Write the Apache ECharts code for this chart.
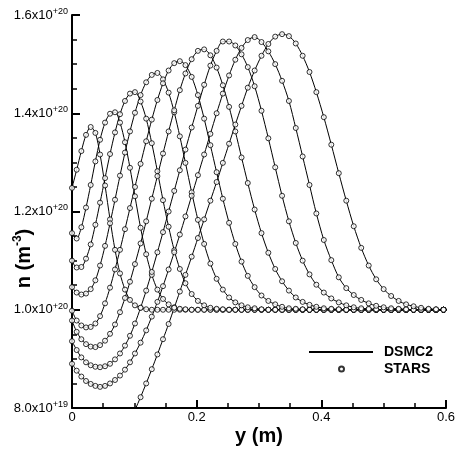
<!DOCTYPE html>
<html><head><meta charset="utf-8">
<script src="https://cdn.jsdelivr.net/npm/echarts@6/dist/echarts.min.js"></script>
<style>html,body{margin:0;padding:0;background:#fff}#c{width:456px;height:450px}</style>
</head><body><div id="c"></div>
<script>
// positions y (m) shared by all profiles
const positions = [0,0.0075,0.015,0.0225,0.03,0.0375,0.045,0.053,0.061,0.069,
  0.077,0.085,0.093,0.101,0.11,0.119,0.128,0.137,0.146,0.155,
  0.164,0.173,0.182,0.192,0.202,0.212,0.222,0.232,0.242,0.252,
  0.262,0.272,0.282,0.293,0.304,0.315,0.326,0.337,0.348,0.359,
  0.37,0.381,0.392,0.404,0.416,0.428,0.44,0.452,0.464,0.476,
  0.488,0.5,0.512,0.524,0.536,0.548,0.56,0.572,0.584,0.596];

// number density n (units of 1e20 m^-3), one profile per time
const run1 = [1.248,1.285,1.323,1.356,1.372,1.360,1.316,1.253,1.184,1.122,
  1.074,1.041,1.020,1.009,1.004,1.001,1,1,1,1,
  1,1,1,1,1,1,1,1,1,1, 1,1,1,1,1,1,1,1,1,1,
  1,1,1,1,1,1,1,1,1,1, 1,1,1,1,1,1,1,1,1,1];
const run2 = [1.156,1.145,1.168,1.208,1.254,1.302,1.346,1.381,1.399,1.402,
  1.381,1.341,1.289,1.231,1.167,1.113,1.071,1.041,1.022,1.011,
  1.005,1.002,1.001,1,1,1,1,1,1,1, 1,1,1,1,1,1,1,1,1,1,
  1,1,1,1,1,1,1,1,1,1, 1,1,1,1,1,1,1,1,1,1];
const run3 = [1.100,1.086,1.087,1.104,1.133,1.173,1.218,1.268,1.317,1.361,
  1.398,1.425,1.440,1.443,1.424,1.389,1.339,1.282,1.223,1.169,
  1.121,1.083,1.054,1.032,1.018,1.009,1.004,1.002,1.001,1,
  1,1,1,1,1,1,1,1,1,1, 1,1,1,1,1,1,1,1,1,1, 1,1,1,1,1,1,1,1,1,1];
const run4 = [1.046,1.035,1.031,1.033,1.042,1.060,1.090,1.130,1.176,1.224,
  1.273,1.320,1.363,1.401,1.437,1.463,1.478,1.482,1.469,1.442,
  1.402,1.353,1.299,1.239,1.183,1.134,1.094,1.063,1.041,1.025,
  1.015,1.009,1.005,1.003,1.001,1,1,1,1,1,
  1,1,1,1,1,1,1,1,1,1, 1,1,1,1,1,1,1,1,1,1];
const run5 = [0.998,0.978,0.968,0.964,0.965,0.972,0.987,1.013,1.045,1.082,
  1.122,1.164,1.207,1.250,1.297,1.343,1.387,1.427,1.461,1.487,
  1.502,1.506,1.498,1.474,1.437,1.389,1.335,1.280,1.226,1.177,
  1.134,1.098,1.069,1.046,1.029,1.018,1.011,1.006,1.003,1.002,
  1.001,1,1,1,1,1,1,1,1,1, 1,1,1,1,1,1,1,1,1,1];
const run6 = [0.978,0.955,0.940,0.930,0.925,0.924,0.928,0.937,0.951,0.970,
  0.995,1.024,1.057,1.093,1.135,1.180,1.226,1.272,1.318,1.363,
  1.406,1.447,1.481,1.510,1.527,1.530,1.518,1.493,1.457,1.413,
  1.363,1.310,1.258,1.204,1.156,1.116,1.083,1.058,1.039,1.025,
  1.016,1.010,1.006,1.003,1.002,1.001,1,1,1,1, 1,1,1,1,1,1,1,1,1,1];
const run7 = [0.936,0.918,0.903,0.893,0.887,0.884,0.883,0.885,0.890,0.899,
  0.911,0.927,0.947,0.972,1.004,1.039,1.077,1.117,1.158,1.200,
  1.242,1.284,1.326,1.371,1.415,1.458,1.497,1.527,1.546,1.546,
  1.538,1.520,1.494,1.455,1.405,1.349,1.290,1.232,1.180,1.136,
  1.100,1.072,1.051,1.035,1.023,1.015,1.009,1.005,1.003,1.002,
  1.001,1,1,1,1,1,1,1,1,1];
const run8 = [0.890,0.876,0.864,0.855,0.849,0.845,0.843,0.845,0.850,0.857,
  0.866,0.878,0.893,0.911,0.933,0.958,0.986,1.016,1.048,1.082,
  1.117,1.153,1.190,1.232,1.274,1.316,1.358,1.400,1.440,1.477,
  1.509,1.533,1.549,1.555,1.545,1.526,1.500,1.466,1.425,1.370,
  1.312,1.254,1.196,1.142,1.101,1.066,1.044,1.030,1.020,1.013,
  1.008,1.005,1.003,1.002,1.001,1,1,1,1,1];
const run9 = [0.730,0.722,0.715,0.709,0.705,0.703,0.704,0.708,0.715,0.725,
  0.738,0.755,0.774,0.796,0.822,0.850,0.879,0.909,0.940,0.971,
  1.004,1.037,1.071,1.108,1.146,1.184,1.222,1.260,1.299,1.338,
  1.377,1.415,1.452,1.487,1.517,1.541,1.556,1.561,1.557,1.542,
  1.517,1.484,1.443,1.392,1.336,1.278,1.222,1.170,1.126,1.090,
  1.062,1.042,1.028,1.018,1.011,1.007,1.004,1.002,1.001,1.000];

const runs = [run1, run2, run3, run4, run5, run6, run7, run8, run9];
const lineName = 'DSMC2';
const pointName = 'STARS';

const xTicks = [0, 0.2, 0.4, 0.6];
const xTickLabels = ['0', '0.2', '0.4', '0.6'];
const yTicks = [0.8, 1.0, 1.2, 1.4, 1.6];
const yTickMantissa = ['8.0', '1.0', '1.2', '1.4', '1.6'];
const yTickExponent = ['+19', '+20', '+20', '+20', '+20'];

const FONT = '"Liberation Sans", Arial, Helvetica, sans-serif';
const chart = echarts.init(document.getElementById('c'), null, {renderer: 'canvas'});

const series = [];
runs.forEach(r => {
  series.push({
    type: 'line', name: lineName, symbol: 'none', smooth: 0.3, clip: true,
    data: positions.map((p, i) => [p, r[i]]),
    itemStyle: {color: '#000'},
    lineStyle: {color: '#000', width: 1}, silent: true, z: 2
  });
});
runs.forEach(r => {
  series.push({
    type: 'scatter', name: pointName, symbol: 'circle', symbolSize: 5, clip: true,
    data: positions.map((p, i) => [p, r[i]]),
    itemStyle: {color: '#fff', borderColor: '#000', borderWidth: 1}, silent: true, z: 3
  });
});

const legendText = {fontFamily: FONT, fontWeight: 'bold', fontSize: 14, color: '#000'};

chart.setOption({
  animation: false,
  backgroundColor: '#fff',
  textStyle: {fontFamily: FONT},
  grid: {left: 72, right: 10, top: 15, bottom: 42, containLabel: false, outerBoundsMode: 'none'},
  legend: [
    {data: [{name: lineName, itemStyle: {opacity: 0}}], left: 308, top: 345, padding: 0,
     itemWidth: 64, itemHeight: 10, selectedMode: false,
     textStyle: Object.assign({padding: [0, 0, 0, 6]}, legendText)},
    {data: [pointName], left: 338, top: 362, padding: 0, itemWidth: 5, itemHeight: 5,
     selectedMode: false,
     textStyle: Object.assign({padding: [0, 0, 0, 35]}, legendText)}
  ],
  xAxis: {
    type: 'value', min: 0, max: 0.6, interval: 0.2,
    name: 'y (m)', nameLocation: 'middle', nameGap: 17, nameMoveOverlap: false,
    nameTextStyle: {fontFamily: FONT, fontWeight: 'bold', fontSize: 20, color: '#000', lineHeight: 22},
    axisLine: {show: true, lineStyle: {color: '#000', width: 2}},
    axisTick: {show: true, inside: true, length: 8, lineStyle: {color: '#000', width: 2}},
    minorTick: {show: true, splitNumber: 4, length: 5, lineStyle: {color: '#000', width: 1.5}},
    splitLine: {show: false},
    axisLabel: {
      margin: 3, fontSize: 13, color: '#000', fontFamily: FONT,
      formatter: v => { const i = xTicks.findIndex(t => Math.abs(t - v) < 1e-9); return i >= 0 ? xTickLabels[i] : ''; }
    }
  },
  yAxis: {
    type: 'value', min: 0.8, max: 1.6, interval: 0.2,
    name: '{a|n (m}{b|-3}{a|)}', nameLocation: 'middle', nameRotate: 90, nameGap: 36,
    nameMoveOverlap: false,
    nameTextStyle: {
      padding: [0, 94, 0, 0],
      rich: {
        a: {fontFamily: FONT, fontWeight: 'bold', fontSize: 20, color: '#000', lineHeight: 24},
        b: {fontFamily: FONT, fontWeight: 'bold', fontSize: 12, color: '#000', lineHeight: 12, verticalAlign: 'top'}
      }
    },
    axisLine: {show: true, lineStyle: {color: '#000', width: 2}},
    axisTick: {show: true, inside: true, length: 8, lineStyle: {color: '#000', width: 2}},
    minorTick: {show: true, splitNumber: 4, length: 5, lineStyle: {color: '#000', width: 1.5}},
    splitLine: {show: false},
    axisLabel: {
      margin: 4,
      formatter: v => {
        const i = yTicks.findIndex(t => Math.abs(t - v) < 1e-9);
        if (i < 0) return '';
        return '{m|' + yTickMantissa[i] + 'x10}{e|' + yTickExponent[i] + '}';
      },
      rich: {
        m: {fontFamily: FONT, fontSize: 13, color: '#000', lineHeight: 16},
        e: {fontFamily: FONT, fontSize: 9, color: '#000', lineHeight: 8, verticalAlign: 'top'}
      }
    }
  },
  series: series
});
</script>
</body></html>
